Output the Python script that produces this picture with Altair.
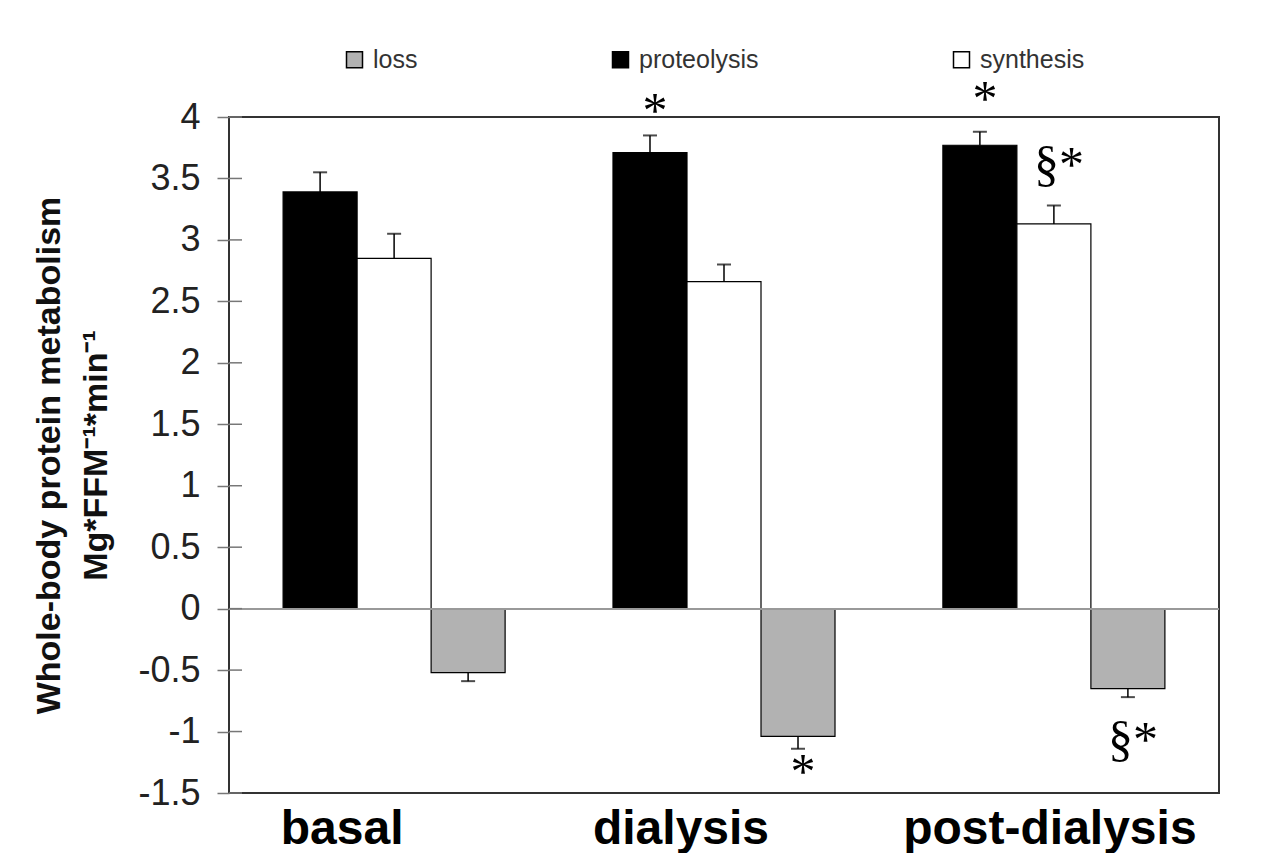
import altair as alt
import pandas as pd

# ---------------- data ----------------
categories = ["basal", "dialysis", "post-dialysis"]
series = ["proteolysis", "synthesis", "loss"]
legend_order = ["loss", "proteolysis", "synthesis"]
legend_colors = ["#b2b2b2", "#000000", "#ffffff"]

proteolysis = [3.39, 3.71, 3.77]
proteolysis_se = [0.16, 0.14, 0.11]
synthesis = [2.85, 2.66, 3.13]
synthesis_se = [0.20, 0.14, 0.15]
loss = [-0.52, -1.04, -0.65]
loss_se = [0.07, 0.10, 0.07]

ann_category = ["dialysis", "post-dialysis", "post-dialysis", "dialysis", "post-dialysis"]
ann_series = ["proteolysis", "proteolysis", "synthesis", "loss", "loss"]
ann_text = ["*", "*", "§*", "*", "§*"]
ann_y = [3.92, 4.02, 3.48, -1.46, -1.20]

y_ticks = [-1.5, -1, -0.5, 0, 0.5, 1, 1.5, 2, 2.5, 3, 3.5, 4]

# ---------------- tables ----------------
rows = []
for s, vals, ses in [("proteolysis", proteolysis, proteolysis_se),
                     ("synthesis", synthesis, synthesis_se),
                     ("loss", loss, loss_se)]:
    for c, v, e in zip(categories, vals, ses):
        rows.append({"category": c, "series": s, "value": v,
                     "end": v + e if v >= 0 else v - e})
df = pd.DataFrame(rows)
ann_df = pd.DataFrame({"category": ann_category, "series": ann_series,
                       "label": ann_text, "y": ann_y})
tick_df = pd.DataFrame({"v": y_ticks})

x_enc = alt.X(
    "category:N",
    scale=alt.Scale(domain=categories, paddingInner=0.327, paddingOuter=0.164),
    axis=alt.Axis(
        title=None, labelAngle=0, ticks=False, tickSize=0, domain=False,
        labelFont="Liberation Sans", labelFontSize=48, labelFontWeight="bold",
        labelColor="black", labelPadding=50, labelBaseline="alphabetic",
        labelLimit=600,
        labelOffset={"condition": [
            {"test": "datum.value === 'basal'", "value": -52},
            {"test": "datum.value === 'dialysis'", "value": -43}],
            "value": -4},
    ),
)
xoff = alt.XOffset("series:N", scale=alt.Scale(domain=series))

y_scale = alt.Scale(domain=[-1.5, 4], nice=False, zero=False)
y_axis = alt.Axis(
    values=y_ticks, labelExpr="'' + datum.value", grid=False, domain=False,
    tickSize=12, tickColor="#777", tickWidth=1.5, labelPadding=17,
    labelFont="Liberation Sans", labelFontSize=36, labelColor="#222",
    title=["Whole-body protein metabolism", "Mg*FFM\u207b\u00b9*min\u207b\u00b9"],
    titleFont="Liberation Sans", titleFontSize=34, titleFontWeight="bold",
    titleColor="#111", titleAngle=270, titleX=-170, titleY=338,
    titleAlign="center", titleBaseline="alphabetic", titleLineHeight=47,
)

bars = alt.Chart(df).mark_bar(stroke="black", strokeWidth=1.2).encode(
    x=x_enc,
    xOffset=xoff,
    y=alt.Y("value:Q", scale=y_scale, axis=y_axis),
    y2=alt.datum(0),
    color=alt.Color(
        "series:N",
        scale=alt.Scale(domain=legend_order, range=legend_colors),
        legend=alt.Legend(
            orient="none", legendX=113, legendY=-70, direction="horizontal",
            title=None, symbolType="square", symbolSize=256,
            symbolStrokeColor="black", symbolStrokeWidth=1.5,
            labelFont="Liberation Sans", labelFontSize=25, labelColor="#333",
            labelOffset=6, columnPadding=190, padding=0,
        ),
    ),
)

zero_line = alt.Chart(df).mark_rule(color="#999", strokeWidth=1.5).encode(
    y=alt.Y(datum=0, scale=y_scale, axis=y_axis)
)

inner_ticks = alt.Chart(tick_df).mark_rule(color="#777", strokeWidth=1.5).encode(
    y=alt.Y("v:Q", scale=y_scale, axis=y_axis),
    x=alt.value(0),
    x2=alt.value(13),
)

err_rules = alt.Chart(df).mark_rule(color="black", strokeWidth=1.5).encode(
    x=x_enc, xOffset=xoff,
    y=alt.Y("value:Q", scale=y_scale, axis=y_axis),
    y2="end:Q",
)

err_caps = alt.Chart(df).mark_tick(color="black", thickness=2, size=14).encode(
    x=x_enc, xOffset=xoff,
    y=alt.Y("end:Q", scale=y_scale, axis=y_axis),
)

annotations = alt.Chart(ann_df).mark_text(
    font="Liberation Serif", fontSize=50, baseline="alphabetic", dx=5, color="black"
).encode(
    x=x_enc, xOffset=xoff,
    y=alt.Y("y:Q", scale=y_scale, axis=y_axis),
    text="label:N",
)

chart = alt.layer(
    bars, zero_line, err_rules, err_caps, inner_ticks, annotations
).properties(
    width=990,
    height=676,
    autosize=alt.AutoSizeParams(type="none"),
    padding={"left": 221, "top": 109, "right": 30, "bottom": 60},
    background="white",
).configure_view(
    stroke="#333", strokeWidth=2, fill="white"
)

chart.save("out.html", embed_options={"renderer": "svg", "actions": False})
